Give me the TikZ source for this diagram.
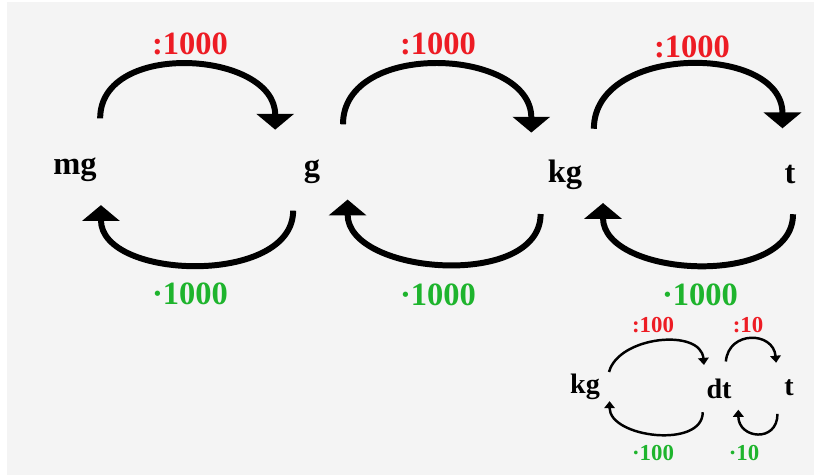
\documentclass[tikz,border=0pt]{standalone}
\usepackage{fontspec}
\setmainfont{Liberation Serif}
\usetikzlibrary{arrows.meta}
\definecolor{divred}{RGB}{237,28,36}
\definecolor{mulgreen}{RGB}{30,180,45}
\definecolor{bggray}{RGB}{244,244,244}
\tikzset{
  unit/.style={circle,minimum size=2cm,inner sep=0pt,text height=0.5cm,text depth=0pt,
    font=\fontsize{18.5}{22}\selectfont\bfseries},
  smallunit/.style={circle,minimum size=1.12cm,inner sep=0pt,
    font=\fontsize{16}{19}\selectfont\bfseries},
  div/.style={inner sep=0pt,text=divred,font=\fontsize{18.5}{22}\selectfont\bfseries},
  mul/.style={inner sep=0pt,text=mulgreen,font=\fontsize{18.5}{22}\selectfont\bfseries},
  smalldiv/.style={inner sep=0pt,text=divred,font=\fontsize{13}{15}\selectfont\bfseries},
  smallmul/.style={inner sep=0pt,text=mulgreen,font=\fontsize{13}{15}\selectfont\bfseries},
  bigarrow/.style={line width=3.4pt,-{Triangle[width=21pt,length=9pt]}},
  smallarrow/.style={line width=1.4pt,-{Triangle[width=6pt,length=4pt]}},
}
\begin{document}
\begin{tikzpicture}[x=0.02cm,y=0.02cm]
  \useasboundingbox (0,0) rectangle (814,475);
  \fill[bggray] (7,0) rectangle (814,473);
  % units
  \draw
    (75,313) node[unit] (mg){mg}
    (312,311) node[unit] (g){g}
    (565,305) node[unit] (kg){kg}
    (790,304) node[unit,minimum size=1.72cm] (t){t};
  \draw
    (190,431) node[div] (mgdiv){:1000}
    (438,431) node[div] (gdiv){:1000}
    (692,428) node[div] (kgdiv){:1000}
    (190,181) node[mul] (gmul){·1000}
    (438,180) node[mul] (kgmul){·1000}
    (700,180) node[mul] (tmul){·1000};
  \begin{scope}[bigarrow]
    \draw (mg.60) to[out=90,in=90,looseness=1.15] (g.137);
    \draw (g.248) to[out=-90,in=-90] (mg.-59);
    \draw (g.52) to[out=90,in=90,looseness=1.15] (kg.132);
    \draw (kg.241) to[out=-90,in=-90] (g.-45);
    \draw (kg.55) to[out=90,in=90,looseness=1.15] (t.100);
    \draw (t.274) to[out=-90,in=-90] (kg.-41);
  \end{scope}
  % tonne and decitonne
  \draw
    (585,88) node[smallunit] (kg2){kg}
    (719,86) node[smallunit] (dt){dt}
    (789,87) node[smallunit] (t2){t};
  \draw
    (653,150) node[smalldiv] (kg2div){:100}
    (748,150) node[smalldiv] (dtdiv){:10}
    (653,22) node[smallmul] (dtmul){·100}
    (744,22) node[smallmul] (t2mul){·10};
  \begin{scope}[smallarrow]
    \draw (kg2.32) to[out=75,in=95] (dt.122);
    \draw (dt.76) to[out=85,in=95,looseness=1.6] (t2.117);
    \draw (dt.235) to[out=-90,in=-90] (kg2.-30);
    \draw (t2.246) to[out=-90,in=-90,looseness=1.9] (dt.-47);
  \end{scope}
\end{tikzpicture}
\end{document}
